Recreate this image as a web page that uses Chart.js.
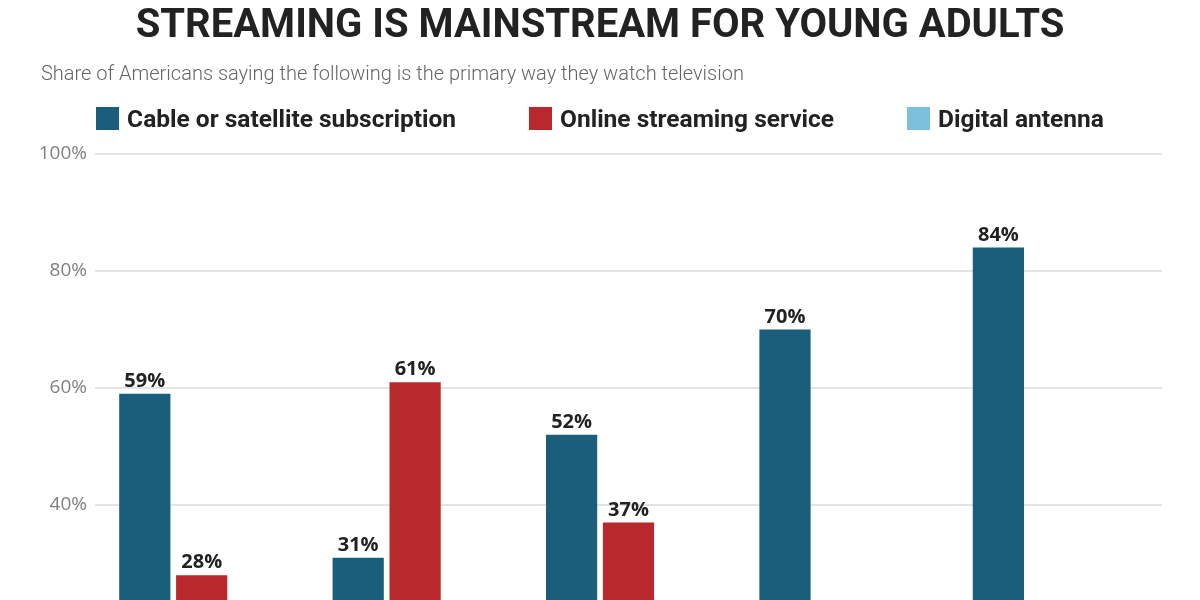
<!DOCTYPE html>
<html>
<head>
<meta charset="utf-8">
<script src="https://cdn.jsdelivr.net/npm/chart.js@4"></script>
<style>
  html, body { margin: 0; padding: 0; overflow: hidden; background: #fff; }
  #wrap { position: relative; width: 1200px; height: 800px; font-family: Roboto, "Noto Sans", sans-serif; }
  #titolo { position: absolute; left: 0; top: 4px; width: 1200px; text-align: center;
    font-size: 40px; line-height: 40px; font-weight: bold; color: #222; }
  #sottotitolo { position: absolute; left: 41px; top: 63px; font-size: 20px; line-height: 20px;
    font-weight: 300; color: #666; }
  #legenda { position: absolute; left: 0; top: 107px; width: 1200px; height: 23px; display: flex;
    justify-content: center; align-items: center; gap: 73px; }
  .voce { display: flex; align-items: center; font-size: 24.5px; font-weight: bold; color: #222; line-height: 23px; }
  .voce span { display: inline-block; width: 23px; height: 23px; margin-right: 8px; }
</style>
</head>
<body>
<div id="wrap">
  <canvas id="chart"></canvas>
  <div id="titolo">STREAMING IS MAINSTREAM FOR YOUNG ADULTS</div>
  <div id="sottotitolo">Share of Americans saying the following is the primary way they watch television</div>
  <div id="legenda"></div>
</div>
<script>
// Dati del grafico
const categorie = ["Total", "18-29", "30-49", "50-64", "65+"];
const serie = ["Cable or satellite subscription", "Online streaming service", "Digital antenna"];
const cavo = [59, 31, 52, 70, 84];
const streaming = [28, 61, 37, 17, 5];
const antenna = [9, 5, 8, 9, 8];
const tickY = [0, 20, 40, 60, 80, 100];
const colori = ["#1b5e7b", "#b8282c", "#7bbfdc"];

const FONT = "Roboto, 'Noto Sans', sans-serif";
const FONT_NUM = "'Open Sans', 'Noto Sans', sans-serif";

// Legenda in HTML
const legenda = document.getElementById("legenda");
serie.forEach((nome, i) => {
  const d = document.createElement("div");
  d.className = "voce";
  d.innerHTML = `<span style="background:${colori[i]}"></span>${nome}`;
  legenda.appendChild(d);
});

// Etichette sopra le barre
const etichette = {
  id: "etichette",
  afterDatasetsDraw(chart) {
    const ctx = chart.ctx;
    ctx.save();
    ctx.font = "bold 20px " + FONT_NUM;
    ctx.fillStyle = "#222";
    ctx.textAlign = "center";
    ctx.textBaseline = "alphabetic";
    chart.data.datasets.forEach((ds, i) => {
      chart.getDatasetMeta(i).data.forEach((bar, j) => {
        ctx.fillText(ds.data[j] + "%", bar.x, bar.y - 7);
      });
    });
    ctx.restore();
  }
};

new Chart(document.getElementById("chart"), {
  type: "bar",
  data: {
    labels: categorie,
    datasets: [
      { label: serie[0], data: cavo, backgroundColor: colori[0] },
      { label: serie[1], data: streaming, backgroundColor: colori[1] },
      { label: serie[2], data: antenna, backgroundColor: colori[2] }
    ]
  },
  options: {
    responsive: true,
    maintainAspectRatio: false,
    animation: false,
    layout: { padding: { left: 39, right: 38, top: 154, bottom: 21 } },
    datasets: { bar: { categoryPercentage: 0.8, barPercentage: 0.9 } },
    plugins: {
      legend: { display: false },
      tooltip: { enabled: false }
    },
    scales: {
      x: {
        afterFit(scale) { scale.height = 40; },
        grid: { display: false },
        border: { display: false },
        ticks: { color: "#666", font: { family: FONT, size: 18 } }
      },
      y: {
        min: 0,
        max: 100,
        afterBuildTicks(scale) { scale.ticks = tickY.map(v => ({ value: v })); },
        afterFit(scale) { scale.width = 56; },
        grid: { color: "#e4e4e4", lineWidth: 2, drawTicks: false },
        border: { display: false },
        ticks: {
          color: "#808080",
          padding: 8,
          font: { family: FONT_NUM, size: 19 },
          callback: v => v + "%"
        }
      }
    }
  },
  plugins: [etichette]
});
</script>
</body>
</html>
